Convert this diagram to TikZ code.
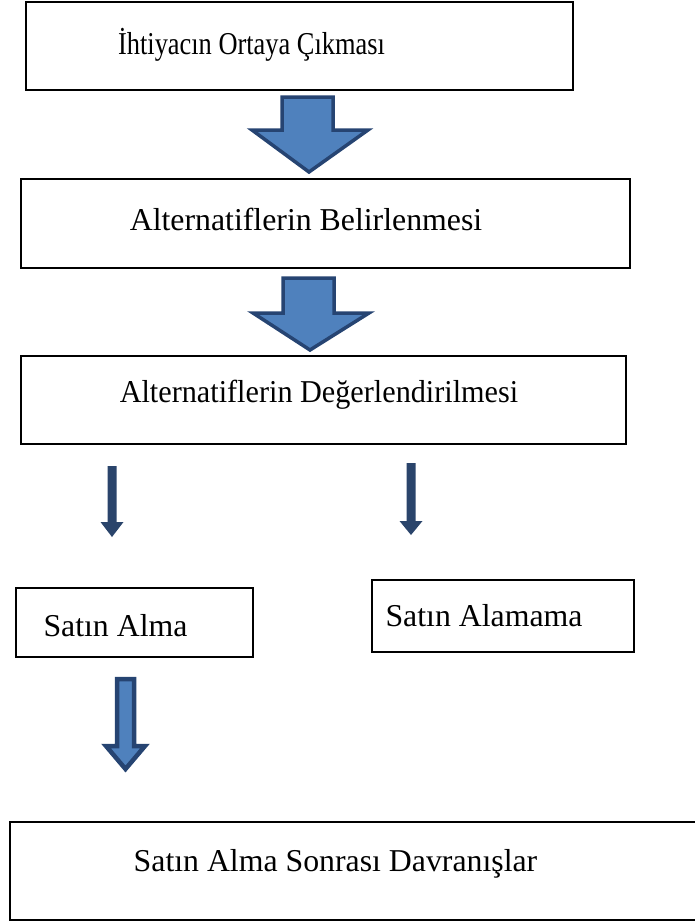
\documentclass[tikz,border=0pt]{standalone}
\usepackage{fontspec}
\setmainfont{Liberation Serif}
\definecolor{arrfill}{HTML}{4F81BD}
\definecolor{arrline}{HTML}{264472}
\definecolor{navy}{HTML}{2A446B}
\begin{document}
\begin{tikzpicture}[x=1pt,y=-1pt,
  box/.style={draw=black,line width=2.6pt,inner sep=0pt},
  lbl/.style={inner sep=0pt,anchor=base,font=\fontsize{31.8}{38}\selectfont},
  bigarrow/.style={fill=arrfill,draw=arrline,line width=3.5pt,line join=miter},
  smallarrow/.style={fill=navy,draw=none},
  thinarrow/.style={fill=arrfill,draw=arrline,line width=4.5pt,line join=miter}]
\useasboundingbox (0,0) rectangle (694,921);
% boxes
\node[box,minimum width=547pt,minimum height=88pt] (b1) at (299.5,46) {};
\node[box,minimum width=609pt,minimum height=89pt] (b2) at (325.5,223.5) {};
\node[box,minimum width=605pt,minimum height=88pt] (b3) at (323.5,400) {};
\node[box,minimum width=237pt,minimum height=69pt] (b4) at (134.5,622.5) {};
\node[box,minimum width=262pt,minimum height=72pt] (b5) at (503,616) {};
\node[box,minimum width=700pt,minimum height=98pt] (b6) at (360,871) {};
% texts
\node[lbl] (t1) at (251.5,54) {\scalebox{0.83}[1]{İhtiyacın Ortaya Çıkması}};
\node[lbl] (t2) at (306,230) {Alternatiflerin Belirlenmesi};
\node[lbl] (t3) at (319,402) {\scalebox{0.95}[1]{Alternatiflerin Değerlendirilmesi}};
\node[lbl] (t4) at (115.5,636) {Satın Alma};
\node[lbl] (t5) at (484,626) {Satın Alamama};
\node[lbl] (t6) at (335.5,871) {Satın Alma Sonrası Davranışlar};
% big arrows
\draw[bigarrow] (282,97) -- (333,97) -- (333,130) -- (368,130) -- (309,172) -- (252,130) -- (282,130) -- cycle;
\draw[bigarrow] (283,278) -- (334,278) -- (334,313) -- (369,313) -- (310,350) -- (253,313) -- (283,313) -- cycle;
% small arrows
\fill[smallarrow] (107.5,466) -- (116.5,466) -- (116.5,522) -- (123.5,522) -- (112,537) -- (100.5,522) -- (107.5,522) -- cycle;
\fill[smallarrow] (406.5,463) -- (415.5,463) -- (415.5,521) -- (422.5,521) -- (411,535) -- (399.5,521) -- (406.5,521) -- cycle;
% arrow to last box
\draw[thinarrow] (117,679) -- (134,679) -- (134,746) -- (145,746) -- (125.5,769) -- (106,746) -- (117,746) -- cycle;
\end{tikzpicture}
\end{document}
